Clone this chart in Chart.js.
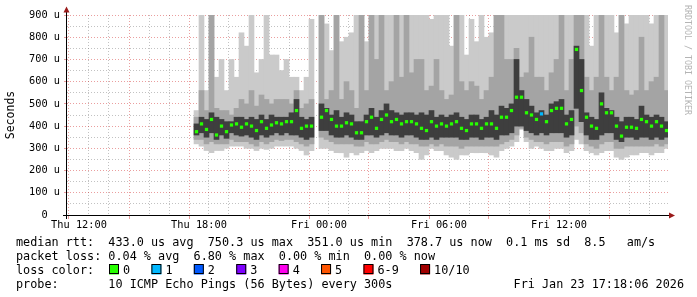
<!DOCTYPE html>
<html>
<head>
<meta charset="utf-8">
<title>smokeping</title>
<script src="https://cdn.jsdelivr.net/npm/chart.js@4.4.1/dist/chart.umd.min.js"></script>
<style>
html, body { margin: 0; padding: 0; background: #fff; }
#wrap { width: 697px; height: 297px; }
</style>
</head>
<body>
<div id="wrap"><canvas id="c" width="697" height="297"></canvas></div>
<script>
'use strict';

//DATA////////////////////
// x = hours since Thu 00:00, one smoke bin every 15 min from Thu 17:45
var binStart = 17.75;
var binStep = 0.25;

var tickHours = [12, 18, 24, 30, 36];
var tickLabels = ['Thu 12:00', 'Thu 18:00', 'Fri 00:00', 'Fri 06:00', 'Fri 12:00'];

// values in microseconds
var median = [375,410,385,430,360,400,375,405,410,395,410,400,
              380,420,390,405,415,410,420,420,470,390,400,400,
              null,440,470,430,400,400,415,410,370,370,420,440,
              390,430,450,420,430,410,420,420,410,390,380,420,
              400,410,400,410,420,390,380,410,410,390,410,410,
              390,440,440,470,530,530,460,450,430,455,420,470,
              480,480,410,430,745,560,440,400,390,500,460,460,
              400,355,395,395,390,430,420,400,420,400,380];
var lightHi = [470,900,560,900,620,700,560,700,620,820,760,900,
               640,700,900,720,720,650,700,620,620,560,620,880,
               null,900,860,740,900,780,800,820,900,900,780,900,
               900,900,900,900,900,900,900,900,900,900,900,880,
               900,900,900,760,900,900,720,880,780,900,800,820,
               900,900,900,900,900,900,900,900,900,900,900,900,
               900,900,900,900,900,900,900,760,900,900,900,900,
               820,900,860,900,900,900,900,860,900,900,900];
var midHi = [440,560,470,900,480,470,470,450,480,520,500,560,
             490,540,520,500,520,520,520,500,560,480,500,520,
             null,900,520,560,900,520,600,560,480,900,560,900,
             700,900,560,600,900,620,900,640,700,700,560,580,
             700,560,520,540,900,600,560,600,580,520,560,620,
             900,900,700,700,750,620,640,800,620,620,560,640,
             700,900,560,700,900,900,620,560,620,900,620,560,
             620,900,560,540,560,800,560,600,620,900,560];
var darkHi = [410,440,430,460,440,430,420,420,440,440,430,440,
              430,450,430,450,440,440,440,460,520,440,430,440,
              null,500,480,450,470,440,460,450,420,420,450,480,
              440,470,500,470,460,450,460,460,450,460,450,470,
              440,450,440,450,460,440,430,450,450,430,440,470,
              450,490,480,500,700,560,520,490,460,470,450,500,
              510,520,450,470,760,700,460,440,430,550,480,470,
              440,420,440,440,430,490,450,440,450,440,420];
var darkLo = [360,370,350,370,340,360,345,370,360,355,360,350,
              340,360,350,360,370,360,370,360,360,350,340,350,
              null,380,380,360,350,350,360,350,340,340,360,360,
              350,360,370,360,360,350,360,360,350,340,340,350,
              340,350,350,350,350,340,340,350,350,340,350,350,
              340,360,360,370,400,400,380,370,360,370,360,370,
              370,370,350,360,480,420,360,340,340,360,370,370,
              340,330,350,350,340,350,350,340,350,340,350];
var midLo = [340,340,320,330,320,320,320,340,330,330,330,320,
             310,330,320,330,340,335,340,340,330,320,310,320,
             null,350,340,330,320,320,320,320,310,310,330,320,
             320,330,340,330,330,320,330,320,320,310,310,320,
             310,320,310,310,310,300,310,310,310,310,310,310,
             310,320,330,340,360,390,350,340,330,330,320,330,
             330,330,310,320,400,370,320,310,300,320,330,330,
             300,300,310,310,310,310,310,310,320,310,320];
var lightLo = [320,310,290,280,290,290,300,310,310,310,300,300,
               290,300,295,300,310,310,310,310,300,290,270,290,
               null,300,300,290,280,280,260,280,270,280,290,280,
               290,300,300,300,290,290,300,290,280,250,270,300,
               290,290,270,260,250,270,270,280,280,280,280,270,
               260,290,300,310,330,385,330,300,310,300,290,290,
               300,300,280,290,340,320,290,280,270,280,290,290,
               260,250,260,270,270,280,280,270,280,280,300];

// bins where pings were lost, and how many of 10
var lossBins = [69];
var lossCounts = [1];

var lossNames = ['0', '1', '2', '3', '4', '5', '6-9', '10/10'];
var lossColors = ['#26ff00', '#00b8ff', '#0059ff', '#7e00ff', '#ff00ee', '#ff5500', '#ff0000', '#a10000'];

var legendLines = [
   'median rtt:  433.0 us avg  750.3 us max  351.0 us min  378.7 us now  0.1 ms sd  8.5   am/s',
   'packet loss: 0.04 % avg  6.80 % max  0.00 % min  0.00 % now',
   'loss color:',
   'probe:       10 ICMP Echo Pings (56 Bytes) every 300s'
];
var stamp = 'Fri Jan 23 17:18:06 2026';
/////////////////////////////

var MONO = '"DejaVu Sans Mono", "Liberation Mono", monospace';
var RED_GRID = 'rgba(200,0,0,0.38)';
var GREY_GRID = 'rgba(120,120,120,0.45)';

function binX(i) {
   return binStart + binStep * i + binStep / 2;
}

function band(lo, hi) {
   var out = [];
   for (var i = 0; i < lo.length; i++) {
      if (lo[i] === null) continue;
      out.push({x: binX(i), y: [lo[i], hi[i]]});
   }
   return out;
}

var medPoints = [];
for (var i = 0; i < median.length; i++) {
   if (median[i] === null) continue;
   var k = lossBins.indexOf(i);
   medPoints.push({x: binX(i), y: median[i], loss: k < 0 ? 0 : lossCounts[k]});
}

var hourTicks = [];
for (var h = 12; h <= 41; h++) hourTicks.push(h);
var yGrid = [];
for (var v = 0; v <= 900; v += 50) yGrid.push(v);

function barSet(data, color, order) {
   return {
      type: 'bar', data: data, backgroundColor: color, borderWidth: 0,
      grouped: false, barPercentage: 1, categoryPercentage: 1, order: order
   };
}

var decor = {
   id: 'decor',
   beforeDraw: function (chart) {
      var ctx = chart.ctx;
      ctx.save();
      ctx.fillStyle = '#fff';
      ctx.fillRect(0, 0, chart.width, chart.height);
      ctx.restore();
   },
   afterDraw: function (chart) {
      var ctx = chart.ctx, a = chart.chartArea;
      ctx.save();
      //axes
      ctx.strokeStyle = '#000';
      ctx.lineWidth = 1;
      ctx.beginPath();
      ctx.moveTo(a.left - 0.5, a.bottom + 4);
      ctx.lineTo(a.left - 0.5, a.top - 4);
      ctx.moveTo(a.left - 4, a.bottom + 0.5);
      ctx.lineTo(a.right + 2, a.bottom + 0.5);
      ctx.stroke();
      //arrows
      ctx.fillStyle = '#9a1a1a';
      ctx.beginPath();
      ctx.moveTo(a.left - 3.5, a.top - 2.5);
      ctx.lineTo(a.left + 2.5, a.top - 2.5);
      ctx.lineTo(a.left - 0.5, a.top - 8.5);
      ctx.closePath();
      ctx.fill();
      ctx.beginPath();
      ctx.moveTo(a.right + 1, a.bottom - 2.5);
      ctx.lineTo(a.right + 1, a.bottom + 3.5);
      ctx.lineTo(a.right + 7, a.bottom + 0.5);
      ctx.closePath();
      ctx.fill();

      //unit label
      ctx.fillStyle = '#000';
      ctx.font = '11.5px ' + MONO;
      ctx.save();
      ctx.translate(11, (a.top + a.bottom) / 2);
      ctx.rotate(-Math.PI / 2);
      ctx.textAlign = 'center';
      ctx.textBaseline = 'middle';
      ctx.fillText('Seconds', 0, 0);
      ctx.restore();

      //watermark
      ctx.save();
      ctx.fillStyle = '#b4b4b4';
      ctx.font = '8.3px ' + MONO;
      ctx.translate(687, 5);
      ctx.rotate(Math.PI / 2);
      ctx.textAlign = 'left';
      ctx.textBaseline = 'middle';
      ctx.fillText('RRDTOOL / TOBI OETIKER', 0, 0);
      ctx.restore();

      //legend
      ctx.font = '11.8px ' + MONO;
      ctx.textAlign = 'left';
      ctx.textBaseline = 'alphabetic';
      for (var l = 0; l < legendLines.length; l++) {
         ctx.fillText(legendLines[l], 16, 245.5 + l * 14.1);
      }
      ctx.textAlign = 'right';
      ctx.fillText(stamp, 684, 245.5 + 3 * 14.1);
      ctx.textAlign = 'left';

      var sx = 109;
      for (var c = 0; c < lossNames.length; c++) {
         ctx.fillStyle = lossColors[c];
         ctx.fillRect(sx, 264.5, 10, 10);
         ctx.strokeStyle = '#000';
         ctx.strokeRect(sx + 0.5, 264.5, 9, 9);
         ctx.fillStyle = '#000';
         ctx.fillText(lossNames[c], sx + 14, 245.5 + 2 * 14.1);
         sx += 14 + ctx.measureText(lossNames[c] + '   ').width;
      }
      ctx.restore();
   }
};

Chart.defaults.font.family = MONO;

var chart = new Chart(document.getElementById('c'), {
   type: 'bar',
   data: {
      datasets: [
         barSet(band(lightLo, lightHi), '#cacaca', 4),
         barSet(band(midLo, midHi), '#a4a4a4', 3),
         barSet(band(darkLo, darkHi), '#3e3e3e', 2),
         {
            type: 'line', data: medPoints, showLine: false, order: 1,
            pointStyle: 'rect', pointRadius: 2.3, pointBorderWidth: 0,
            pointBackgroundColor: function (ctx) {
               var p = ctx.raw;
               return lossColors[p && p.loss ? Math.min(p.loss, 6) : 0];
            }
         }
      ]
   },
   options: {
      responsive: false,
      animation: false,
      devicePixelRatio: 1,
      events: [],
      layout: {padding: {top: 15, right: 29, left: 0, bottom: 0}},
      plugins: {legend: {display: false}, tooltip: {enabled: false}},
      scales: {
         x: {
            type: 'linear', min: 11.4, max: 41.45, offset: false, z: 1,
            afterBuildTicks: function (s) {
               s.ticks = hourTicks.map(function (t) { return {value: t}; });
            },
            afterFit: function (s) { s.height = 82; },
            ticks: {
               autoSkip: false, maxRotation: 0, minRotation: 0, padding: 0,
               color: '#000', font: {size: 10.3},
               callback: function (val) {
                  var k = tickHours.indexOf(val);
                  return k < 0 ? '' : tickLabels[k];
               }
            },
            grid: {
               lineWidth: 1, tickLength: 4,
               color: function (ctx) { return ctx.tick && ctx.tick.value % 3 === 0 ? RED_GRID : GREY_GRID; },
               tickColor: function (ctx) { return ctx.tick && ctx.tick.value % 3 === 0 ? RED_GRID : 'rgba(0,0,0,0)'; }
            },
            border: {display: false, dash: [1, 2]}
         },
         y: {
            min: 0, max: 900, z: 1,
            afterBuildTicks: function (s) {
               s.ticks = yGrid.map(function (t) { return {value: t}; });
            },
            afterFit: function (s) { s.width = 67; },
            ticks: {
               autoSkip: false, padding: 4, color: '#000', font: {size: 10.3},
               callback: function (val) {
                  if (val % 100) return '';
                  return val === 0 ? '0  ' : val + ' u';
               }
            },
            grid: {
               lineWidth: 1, tickLength: 3,
               color: function (ctx) { return ctx.tick && ctx.tick.value % 100 === 0 ? RED_GRID : GREY_GRID; },
               tickColor: function (ctx) { return ctx.tick && ctx.tick.value % 100 === 0 ? RED_GRID : 'rgba(0,0,0,0)'; }
            },
            border: {display: false, dash: [1, 2]}
         }
      }
   },
   plugins: [decor]
});
</script>
</body>
</html>
